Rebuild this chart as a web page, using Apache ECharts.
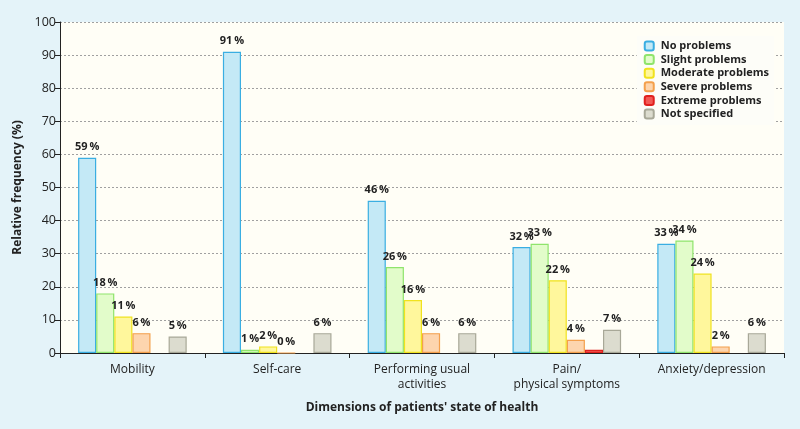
<!DOCTYPE html>
<html><head><meta charset="utf-8">
<script src="https://cdn.jsdelivr.net/npm/echarts@6/dist/echarts.min.js"></script>
<style>html,body{margin:0;padding:0;background:#e4f3f9;}#c{width:800px;height:429px;}</style>
</head><body><div id="c"></div>
<script>
const categories = ["Mobility", "Self-care", "Performing usual\nactivities", "Pain/\nphysical symptoms", "Anxiety/depression"];
const seriesNames = ["No problems", "Slight problems", "Moderate problems", "Severe problems", "Extreme problems", "Not specified"];
const noProblems = [59, 91, 46, 32, 33];
const slightProblems = [18, 1, 26, 33, 34];
const moderateProblems = [11, 2, 16, 22, 24];
const severeProblems = [6, 0, 6, 4, 2];
const extremeProblems = [null, null, null, 1, null];
const notSpecified = [5, 6, 6, 7, 6];
const yTicks = [0, 10, 20, 30, 40, 50, 60, 70, 80, 90, 100];

const fills = ["#c4e9f6", "#e2fcca", "#fff79c", "#fdd5ae", "#f25a55", "#dcdccf"];
const borders = ["#3aaee2", "#8fe46c", "#f0e21e", "#f4a04c", "#e0201e", "#a8a898"];
const values = [noProblems, slightProblems, moderateProblems, severeProblems, extremeProblems, notSpecified];
const showLabel = [true, true, true, true, false, true];
const FONT = "Open Sans";

const chart = echarts.init(document.getElementById('c'), null, {renderer: 'canvas'});
chart.setOption({
  backgroundColor: '#e4f3f9',
  animation: false,
  textStyle: {fontFamily: FONT},
  grid: {left: 60, right: 16, top: 22, bottom: 76, show: true, backgroundColor: '#fffef6', borderWidth: 0},
  legend: {
    orient: 'vertical', right: 26, top: 36,
    backgroundColor: '#fdfdf8',
    padding: [4, 5, 5, 7],
    itemWidth: 9, itemHeight: 9, itemGap: 1.6,
    textStyle: {fontFamily: FONT, fontSize: 11, fontWeight: 'bold', color: '#222', lineHeight: 12, padding: [0, 0, 0, 2]},
    data: seriesNames
  },
  xAxis: {
    type: 'category', data: categories,
    name: "Dimensions of patients' state of health",
    nameLocation: 'middle', nameGap: 49,
    nameTextStyle: {fontFamily: FONT, fontSize: 12, fontWeight: 'bold', color: '#222'},
    axisLine: {lineStyle: {color: '#222', width: 1}},
    axisTick: {show: true, length: 5, lineStyle: {color: '#222'}},
    axisLabel: {fontFamily: FONT, fontSize: 12, color: '#222', margin: 9, lineHeight: 15}
  },
  yAxis: {
    type: 'value', min: yTicks[0], max: yTicks[yTicks.length - 1], interval: 10,
    name: 'Relative frequency (%)', nameLocation: 'middle', nameGap: 32,
    nameTextStyle: {fontFamily: FONT, fontSize: 12, fontWeight: 'bold', color: '#222'},
    axisLine: {show: true, lineStyle: {color: '#222', width: 1}},
    axisTick: {show: true, length: 5, lineStyle: {color: '#222'}},
    axisLabel: {fontFamily: FONT, fontSize: 12.5, color: '#222', margin: 4},
    splitLine: {show: true, lineStyle: {color: '#a0a0a0', type: [2, 2], width: 1}}
  },
  series: seriesNames.map((n, i) => ({
    name: n, type: 'bar', data: values[i],
    barGap: '0%', barCategoryGap: '25%',
    itemStyle: {color: fills[i], borderColor: borders[i], borderWidth: 1.2},
    label: {
      show: showLabel[i], position: 'top', distance: 5,
      fontFamily: FONT, fontSize: 11, fontWeight: 'bold', color: '#222',
      formatter: p => p.value + '\u2009%'
    }
  }))
});
</script></body></html>
